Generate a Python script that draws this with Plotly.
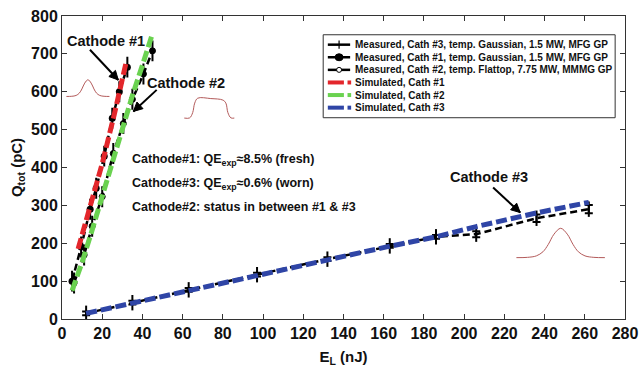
import math
import plotly.graph_objects as go

# ---------------- data ----------------
# Measured, cathode #3 (temporal Gaussian, 1.5 MW, MFG GP)
meas3_x = [12, 35, 63, 97, 132, 163, 186, 206, 236, 262]
meas3_y = [15, 43, 77, 117, 158, 193, 217, 224, 266, 290]
meas3_err = [5, 5, 5, 5, 5, 5, 5, 8, 10, 11]

# Measured, cathode #1 (temporal Gaussian, 1.5 MW, MFG GP)
meas1_x = [5, 9.5, 14, 17, 21, 25, 28.5, 32.5]
meas1_y = [100, 190, 290, 345, 430, 530, 600, 665]
meas1_err = [25, 25, 25, 25, 25, 25, 25, 25]

# Measured, cathode #2 (temporal flattop, 7.75 MW, MMMG GP)
meas2_x = [6, 11, 15, 20, 25.5, 30.5, 35, 40.5, 45]
meas2_y = [95, 169, 245, 323, 437, 516, 580, 647, 708]
meas2_err = [25, 25, 25, 25, 25, 25, 25, 25, 25]

# Simulations
sim1_x = [8, 14, 20, 26, 32]
sim1_y = [185, 295, 410, 540, 680]
sim2_x = [5, 10, 15, 20, 25, 30, 35, 40, 44.5]
sim2_y = [75, 150, 235, 325, 415, 505, 590, 670, 745]
sim3_x = [12, 35, 63, 97, 132, 162, 186, 206, 236, 262]
sim3_y = [15, 42, 76, 117, 157, 191, 217, 244, 280, 308]

# Schematic pulse-shape insets (normalised profiles)
gauss_t = [-1, -0.75, -0.55, -0.4, -0.28, -0.15, 0, 0.15, 0.28, 0.4, 0.55, 0.75, 1]
gauss_a = [0, 0.01, 0.06, 0.2, 0.45, 0.8, 1, 0.8, 0.45, 0.2, 0.06, 0.01, 0]
flat_x = [60.8, 63.5, 65, 66, 67.5, 74, 80, 81.5, 82.5, 84, 85.7]
flat_y = [530.5, 531, 545, 570, 583, 582, 578, 570, 545, 531, 530.5]

x_ticks = list(range(0, 281, 20))
y_ticks = list(range(0, 801, 100))

legend_labels = [
    "Measured, Cath #3, temp. Gaussian, 1.5 MW, MFG GP",
    "Measured, Cath #1, temp. Gaussian, 1.5 MW, MFG GP",
    "Measured, Cath #2, temp. Flattop, 7.75 MW, MMMG GP",
    "Simulated, Cath #1",
    "Simulated, Cath #2",
    "Simulated, Cath #3",
]

RED = "#e3262b"
GREEN = "#6ad250"
BLUE = "#2f45a6"
PULSE = "#b35a5a"
FONT = "Liberation Sans, Arial, sans-serif"

W, H = 639, 368
M_L, M_R, M_T, M_B = 62, 14, 16, 49
X_RANGE, Y_RANGE = [0, 280], [0, 800]
PX_X = (W - M_L - M_R) / (X_RANGE[1] - X_RANGE[0])
PX_Y = (H - M_T - M_B) / (Y_RANGE[1] - Y_RANGE[0])

fig = go.Figure()

# pulse shape insets
g1_c, g1_hw, g1_b, g1_h = 12.9, 10.7, 587.6, 44
g3_c, g3_hw, g3_b, g3_h = 248, 22, 162, 77.5
fig.add_trace(go.Scatter(x=[g1_c + t * g1_hw for t in gauss_t],
                         y=[g1_b + a * g1_h for a in gauss_a],
                         mode="lines", line=dict(color=PULSE, width=1, shape="spline"),
                         showlegend=False, hoverinfo="skip"))
fig.add_trace(go.Scatter(x=flat_x, y=flat_y, mode="lines",
                         line=dict(color=PULSE, width=1, shape="spline"),
                         showlegend=False, hoverinfo="skip"))
fig.add_trace(go.Scatter(x=[g3_c + t * g3_hw for t in gauss_t],
                         y=[g3_b + a * g3_h for a in gauss_a],
                         mode="lines", line=dict(color=PULSE, width=1, shape="spline"),
                         showlegend=False, hoverinfo="skip"))

# measured
fig.add_trace(go.Scatter(
    x=meas3_x, y=meas3_y, mode="lines+markers",
    line=dict(color="black", width=2.5, dash="7px,4px"),
    marker=dict(symbol="line-ns-open", size=11, color="black", line=dict(width=2, color="black")),
    error_y=dict(type="data", array=meas3_err, color="black", thickness=2, width=4),
    showlegend=False))
fig.add_trace(go.Scatter(
    x=meas1_x, y=meas1_y, mode="lines+markers",
    line=dict(color="black", width=2.5, dash="7px,4px"),
    marker=dict(symbol="circle", size=7, color="black"),
    error_y=dict(type="data", array=meas1_err, color="black", thickness=2, width=1),
    showlegend=False))
fig.add_trace(go.Scatter(
    x=meas2_x, y=meas2_y, mode="lines+markers",
    line=dict(color="black", width=2.5, dash="7px,4px"),
    marker=dict(symbol="circle", size=6, color="black", line=dict(width=1, color="black")),
    error_y=dict(type="data", array=meas2_err, color="black", thickness=2, width=1),
    showlegend=False))

# simulated
for sx, sy, c in [(sim1_x, sim1_y, RED), (sim2_x, sim2_y, GREEN), (sim3_x, sim3_y, BLUE)]:
    fig.add_trace(go.Scatter(x=sx, y=sy, mode="lines",
                             line=dict(color=c, width=5, dash="11px,4px"),
                             showlegend=False))

annotations = []
shapes = []

def txt(x, y, s, size=13, xanchor="center"):
    annotations.append(dict(x=x, y=y, xref="x", yref="y", text=s, showarrow=False,
                            xanchor=xanchor, yanchor="middle",
                            font=dict(family=FONT, size=size, color="#111", weight="bold")))

def arrow(x_tail, y_tail, x_head, y_head, head_len=9, head_half=4.5):
    # shaft
    shapes.append(dict(type="line", xref="x", yref="y", x0=x_tail, y0=y_tail, x1=x_head, y1=y_head,
                       line=dict(color="black", width=2), layer="above"))
    # head (triangle in pixel units anchored at the tip)
    dx = (x_head - x_tail) * PX_X
    dy = (y_head - y_tail) * PX_Y
    L = math.hypot(dx, dy)
    ux, uy = dx / L, dy / L
    nx, ny = -uy, ux
    bx, by = -head_len * ux, -head_len * uy
    p1 = (bx + head_half * nx, by + head_half * ny)
    p2 = (bx - head_half * nx, by - head_half * ny)
    path = f"M0,0 L{p1[0]:.2f},{p1[1]:.2f} L{p2[0]:.2f},{p2[1]:.2f} Z"
    shapes.append(dict(type="path", xref="x", yref="y", xsizemode="pixel", ysizemode="pixel",
                       xanchor=x_head, yanchor=y_head, path=path,
                       fillcolor="black", line=dict(color="black", width=1), layer="above"))

txt(22.1, 733, "Cathode #1", size=14.5)
arrow(13.9, 711, 28, 631)
txt(61.7, 624, "Cathode #2", size=14.5)
arrow(47.1, 605, 35.5, 548)
txt(212.4, 376, "Cathode #3", size=14.5)
arrow(214.4, 347, 227.9, 281)

txt(33.8, 420.5, "Cathode#1: QE<sub>exp</sub>≈8.5% (fresh)", size=12.5, xanchor="left")
txt(33.8, 357, "Cathode#3: QE<sub>exp</sub>≈0.6% (worn)", size=12.5, xanchor="left")
txt(33.8, 296, "Cathode#2: status in between #1 &amp; #3", size=12.5, xanchor="left")

# custom compact legend (in data coordinates of the frame)
lg_x0, lg_x1, lg_y0, lg_y1 = 129.9, 275.1, 531.4, 750.5
shapes.append(dict(type="rect", xref="x", yref="y", x0=lg_x0, x1=lg_x1, y0=lg_y0, y1=lg_y1,
                   line=dict(color="#333", width=1), fillcolor="white", layer="above"))
row_y = [724.3, 691.1, 657.8, 624.5, 591.3, 558.0]
key_a, key_b, key_mid = 132.2, 143.3, 137.8
for i, lab in enumerate(legend_labels):
    annotations.append(dict(x=144.6, y=row_y[i], xref="x", yref="y", text=lab, showarrow=False,
                            xanchor="left", yanchor="middle",
                            font=dict(family=FONT, size=10, color="#111", weight="bold")))
for i in range(3):
    shapes.append(dict(type="line", xref="x", yref="y", x0=key_a, x1=key_b, y0=row_y[i], y1=row_y[i],
                       line=dict(color="black", width=2.5), layer="above"))
shapes.append(dict(type="line", xref="x", yref="y", x0=key_mid, x1=key_mid,
                   y0=row_y[0] - 11, y1=row_y[0] + 11, line=dict(color="black", width=1.2), layer="above"))
shapes.append(dict(type="circle", xref="x", yref="y", xsizemode="pixel", ysizemode="pixel",
                   xanchor=key_mid, yanchor=row_y[1], x0=-4, x1=4, y0=-3.5, y1=3.5,
                   fillcolor="black", line=dict(color="black", width=1), layer="above"))
shapes.append(dict(type="circle", xref="x", yref="y", xsizemode="pixel", ysizemode="pixel",
                   xanchor=key_mid, yanchor=row_y[2], x0=-2.5, x1=2.5, y0=-2.5, y1=2.5,
                   fillcolor="white", line=dict(color="black", width=1), layer="above"))
for i, c in zip([3, 4, 5], [RED, GREEN, BLUE]):
    shapes.append(dict(type="line", xref="x", yref="y", x0=key_a, x1=140.2, y0=row_y[i], y1=row_y[i],
                       line=dict(color=c, width=4), layer="above"))
    shapes.append(dict(type="line", xref="x", yref="y", x0=142.0, x1=143.8, y0=row_y[i], y1=row_y[i],
                       line=dict(color=c, width=4), layer="above"))

axis_common = dict(showgrid=False, zeroline=False, showline=True, linecolor="#333", linewidth=1,
                   mirror="ticks", ticks="inside", ticklen=5, tickcolor="#333", automargin=False,
                   tickfont=dict(family=FONT, size=16, color="#111", weight="bold"))

fig.update_layout(
    width=W, height=H,
    margin=dict(l=M_L, r=M_R, t=M_T, b=M_B),
    paper_bgcolor="white", plot_bgcolor="white",
    showlegend=False,
    xaxis=dict(range=X_RANGE, tickvals=x_ticks,
               title=dict(text="E<sub>L</sub> (nJ)", standoff=10,
                          font=dict(family=FONT, size=15, color="#111", weight="bold")),
               **axis_common),
    yaxis=dict(range=Y_RANGE, tickvals=y_ticks,
               title=dict(text="Q<sub>tot</sub> (pC)", standoff=4,
                          font=dict(family=FONT, size=15, color="#111", weight="bold")),
               **axis_common),
    annotations=annotations,
    shapes=shapes,
)

fig.write_html("out.html")
